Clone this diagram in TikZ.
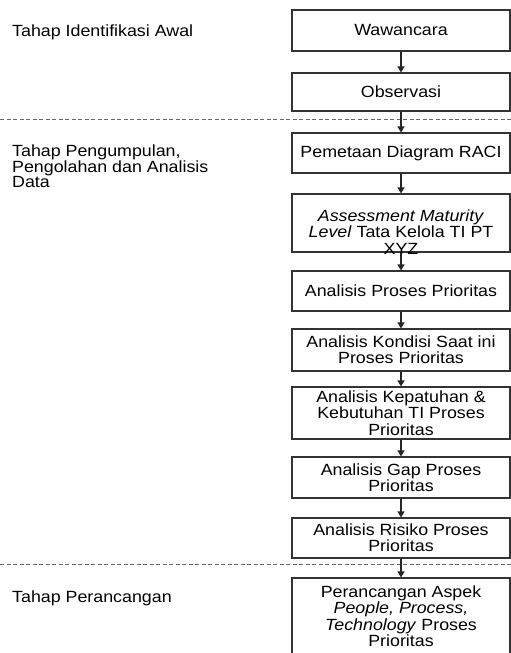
\documentclass[tikz,border=0pt]{standalone}
\usepackage{fontspec}
\setmainfont{Liberation Sans}[FakeStretch=1.1]
\usetikzlibrary{arrows.meta}
\begin{document}
\begin{tikzpicture}[x=1pt,y=-1pt,
  box/.style={draw=black!80, line width=1.1pt, minimum width=218pt, inner sep=0pt, align=center, font=\fontsize{16.2}{16.3}\selectfont},
  txt/.style={inner sep=0pt, align=center, font=\fontsize{16.2}{16.5}\selectfont},
  lbl/.style={anchor=west, inner sep=0pt, align=left, font=\fontsize{16.2}{15}\selectfont},
  arr/.style={-{Triangle[length=6pt,width=7pt]}, line width=1.1pt, draw=black!85},
  sep/.style={dash pattern=on 4pt off 2.5pt, line width=0.9pt, draw=black!60}]
\useasboundingbox (0,0) rectangle (511,653);
\clip (0,0) rectangle (511,653);
% separators
\coordinate (d1a) at (0,119); \coordinate (d1b) at (511,119);
\coordinate (d2a) at (0,564); \coordinate (d2b) at (511,564);
\draw[sep] (d1a) -- (d1b);
\draw[sep] (d2a) -- (d2b);
% boxes
\node[box, minimum height=41pt] (b1) at (401,30.5) {Wawancara};
\node[box, minimum height=38pt] (b2) at (401,92) {Observasi};
\node[box, minimum height=40pt] (b3) at (401,153) {Pemetaan Diagram RACI};
\node[box, minimum height=58pt] (b4) at (401,223) {};
\node[txt] (t4) at (401,232) {\textit{Assessment Maturity}\\\textit{Level} Tata Kelola TI PT\\XYZ};
\node[box, minimum height=40pt] (b5) at (401,291) {Analisis Proses Prioritas};
\node[box, minimum height=42pt] (b6) at (401,350) {Analisis Kondisi Saat ini\\Proses Prioritas};
\node[box, minimum height=52pt] (b7) at (401,413) {Analisis Kepatuhan \&\\Kebutuhan TI Proses\\Prioritas};
\node[box, minimum height=41pt] (b8) at (401,477.5) {Analisis Gap Proses\\Prioritas};
\node[box, minimum height=40pt] (b9) at (401,538) {Analisis Risiko Proses\\Prioritas};
\node[box, minimum height=122pt] (b10) at (401,639) {};
\node[txt] (t10) at (401,616) {Perancangan Aspek\\\textit{People, Process,}\\\textit{Technology} Proses\\Prioritas};
% arrows
\draw[arr] (b1.south) -- (b2.north);
\draw[arr] (b2.south) -- (b3.north);
\draw[arr] (b3.south) -- (b4.north);
\draw[arr] (b4.south) -- (b5.north);
\draw[arr] (b5.south) -- (b6.north);
\draw[arr] (b6.south) -- (b7.north);
\draw[arr] (b7.south) -- (b8.north);
\draw[arr] (b8.south) -- (b9.north);
\draw[arr] (b9.south) -- (b10.north);
% stage labels
\node[lbl] (l1) at (12,32) {Tahap Identifikasi Awal};
\node[lbl] (l2) at (12,166) {Tahap Pengumpulan,\\Pengolahan dan Analisis\\Data};
\node[lbl] (l3) at (12,598) {Tahap Perancangan};
\end{tikzpicture}
\end{document}
